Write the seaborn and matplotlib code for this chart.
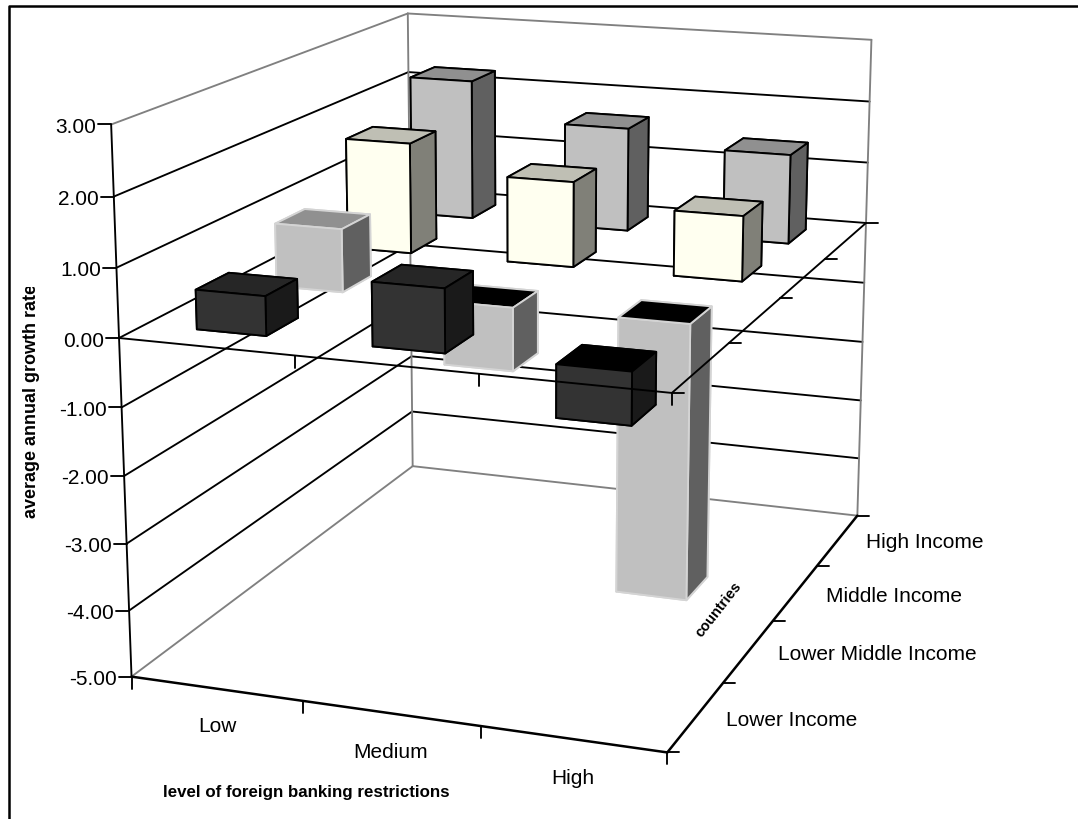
import numpy as np
import matplotlib
matplotlib.use("Agg")
import matplotlib.pyplot as plt
from matplotlib.lines import Line2D
from matplotlib.transforms import Affine2D, Bbox
import seaborn as sns

# Data: average annual growth rate by restriction level and income group
restriction_levels = ["Low", "Medium", "High"]
income_groups = ["Lower Income", "Lower Middle Income", "Middle Income", "High Income"]
lower_income = [0.57, 0.91, -0.75]
lower_middle_income = [0.95, -0.95, -4.13]
middle_income = [1.73, 1.32, 1.00]
high_income = [2.26, 1.66, 1.42]
growth_rates = [lower_income, lower_middle_income, middle_income, high_income]
z_ticks = [3, 2, 1, 0, -1, -2, -3, -4, -5]

sns.set_theme(style="white")
plt.rcParams["font.family"] = ["Liberation Sans", "DejaVu Sans"]

WIDTH, HEIGHT = 1078, 819
fig = plt.figure(figsize=(WIDTH / 100, HEIGHT / 100), dpi=100, facecolor="white")
ax = fig.add_axes([0, 0, 1, 1], projection="3d", computed_zorder=False, proj_type="ortho")
ax.apply_aspect = lambda *args, **kwargs: None
ax.set_axis_off()
ax.patch.set_visible(False)

# Camera solved from where the plot box corners fall on the canvas
box_anchors = [
    (0, 0, 3, 111.6, 124.0), (0, 0, 0, 118.8, 338.3), (0, 0, -5, 130.9, 676.0),
    (0, 4, 3, 407.0, 14.0), (0, 4, 2, 409.0, 71.7), (0, 4, -5, 413.2, 466.7),
    (3, 4, 3, 872.0, 40.0), (3, 4, 0, 865.0, 221.7), (3, 4, -5, 857.4, 516.0),
    (3, 0, 0, 672.0, 394.3), (3, 0, -5, 667.6, 752.0),
]


def solve_camera(anchors):
    rows = []
    for X, Y, Z, u, v in anchors:
        u, v = u / 1000, v / 1000
        rows.append([X, Y, Z, 1, 0, 0, 0, 0, -u * X, -u * Y, -u * Z, -u])
        rows.append([0, 0, 0, 0, X, Y, Z, 1, -v * X, -v * Y, -v * Z, -v])
    camera = np.linalg.svd(np.array(rows, float))[2][-1].reshape(3, 4)
    camera[:2] *= 1000
    w_centre = camera[2] @ np.array([1.5, 2, -1, 1])
    return camera / w_centre


CAMERA = solve_camera(box_anchors)


def to_pixels(x, y, z):
    u, v, w = CAMERA @ np.array([x, y, z, 1.0])
    return u / w, v / w


def pixel_projection():
    # Maps box coordinates straight to the axes' own 2D coordinates
    inv = ax.transData.inverted()
    (x0, y0), (x1, y1) = inv.transform([(0, HEIGHT), (1000, HEIGHT - 1000)])
    to_data = np.array([
        [(x1 - x0) / 1000, 0, 0, x0],
        [0, (y1 - y0) / 1000, 0, y0],
        [0, 0, 1, 0],
        [0, 0, 0, 1],
    ])
    depth_row = CAMERA[2] - np.array([0, 0, 0, 1.0])
    full = np.vstack([CAMERA[0], CAMERA[1], depth_row, CAMERA[2]])
    return to_data @ full


ax.get_proj = pixel_projection

# Display-space helper for flat ticks, measured from the top-left corner
canvas = Affine2D().scale(1, -1).translate(0, HEIGHT)

BLACK = "#000000"
GREY = "#808080"
THIN = 1.35
THICK = 1.8


def line3d(xs, ys, zs, color=BLACK, lw=THIN, zorder=1):
    ax.plot(xs, ys, zs, color=color, lw=lw, zorder=zorder, clip_on=False,
            solid_capstyle="round")


def flat_tick(px, py, dx, dy, zorder=1, lw=THIN):
    ax.add_artist(Line2D([px, px + dx], [py, py + dy], color=BLACK, lw=lw,
                         transform=canvas, clip_on=False, zorder=zorder))


# Walls: value gridlines on the left and back planes
for z in z_ticks:
    edge = z in (3, -5)
    colour = GREY if edge else BLACK
    line3d([0, 0], [0, 4], [z, z], color=colour)
    line3d([0, 3], [4, 4], [z, z], color=colour)
line3d([0, 0], [4, 4], [-5, 3], color=GREY)
line3d([3, 3], [4, 4], [-5, 3], color=GREY)

# Floor edges and vertical value axis
line3d([0, 0], [0, 0], [-5, 3], lw=THIN)
line3d([0, 3], [0, 0], [-5, -5], lw=THICK, zorder=1.5)
line3d([3, 3], [0, 4], [-5, -5], lw=THICK, zorder=1.5)

for z in z_ticks:
    px, py = to_pixels(0, 0, z)
    flat_tick(px, py, -13, 0)
    fig.text((px - 15) / WIDTH, 1 - (py + 3) / HEIGHT, f"{z:.2f}", ha="right",
             va="center", fontsize=15, color=BLACK)
for i in range(4):
    px, py = to_pixels(i, 0, -5)
    flat_tick(px, py, 0, 12)
for j in range(5):
    px, py = to_pixels(3, j, -5)
    flat_tick(px, py, 12, 0)

# Zero-plane axes pass over the bars hanging below them
AXIS_Z = 20
line3d([0, 3], [0, 0], [0, 0], zorder=AXIS_Z)
line3d([3, 3], [0, 4], [0, 0], zorder=AXIS_Z)
for i in range(1, 4):
    px, py = to_pixels(i, 0, 0)
    flat_tick(px, py, 0, 12, zorder=AXIS_Z)
for j in range(5):
    px, py = to_pixels(3, j, 0)
    flat_tick(px, py, 12, 0, zorder=AXIS_Z)

# Face shades per income group: front, side, top, outline
face_palette = [
    sns.color_palette(["#333333", "#1A1A1A", "#262626", "#000000"]),
    sns.color_palette(["#C0C0C0", "#606060", "#909090", "#D4D4D4"]),
    sns.color_palette(["#FFFFF0", "#808078", "#BFBFB4", "#000000"]),
    sns.color_palette(["#C0C0C0", "#606060", "#909090", "#000000"]),
]

BAR_SIZE = 0.40
MARGIN = (1 - BAR_SIZE) / 2
for row in range(len(income_groups) - 1, -1, -1):
    front, side, top, outline = face_palette[row]
    for col, value in enumerate(growth_rates[row]):
        lid = top if value >= 0 else (0, 0, 0)
        # order: bottom, top, front, back, left, right
        faces = [front, lid, front, front, front, side]
        base_order = 30 if value >= 0 else 10
        bar = ax.bar3d(col + MARGIN, row + MARGIN, min(value, 0),
                       BAR_SIZE, BAR_SIZE, abs(value),
                       color=faces, shade=False, edgecolor=outline,
                       linewidth=THIN, zorder=base_order + (3 - row))
        bar.set_clip_on(False)

# Category labels sit between the floor ticks
label_size = 15
for text, px, py in zip(restriction_levels, [217, 391, 573], [727, 752, 778]):
    fig.text(px / WIDTH, 1 - py / HEIGHT, text, ha="center", va="center",
             fontsize=label_size, color=BLACK)
for text, px, py in zip(income_groups, [726, 778, 826, 866], [720, 654, 596, 542]):
    fig.text(px / WIDTH, 1 - py / HEIGHT, text, ha="left", va="center",
             fontsize=label_size, color=BLACK)

fig.text(306.5 / WIDTH, 1 - 793 / HEIGHT, "level of foreign banking restrictions",
         ha="center", va="center", fontsize=12.2, fontweight="bold", color=BLACK)
fig.text(719 / WIDTH, 1 - 610 / HEIGHT, "countries", ha="center", va="center",
         rotation=52, fontsize=10.5, fontweight="bold", color=BLACK)

# The value-axis title is cut off by its frame at the top
y_title = fig.text(31.5 / WIDTH, 1 - 518 / HEIGHT, "average annual growth rate",
                   ha="center", va="bottom", rotation=90, fontsize=13,
                   fontweight="bold", color=BLACK)
y_title.set_clip_box(Bbox([[0, 0], [WIDTH, HEIGHT - 287]]))
y_title.set_clip_on(True)

# Outer frame: left and top rules only
fig.add_artist(Line2D([8.6, 8.6, WIDTH], [HEIGHT, 6, 6], color=BLACK, lw=1.8,
                      transform=canvas, clip_on=False))

fig.savefig("out.png", dpi=100, facecolor="white")
